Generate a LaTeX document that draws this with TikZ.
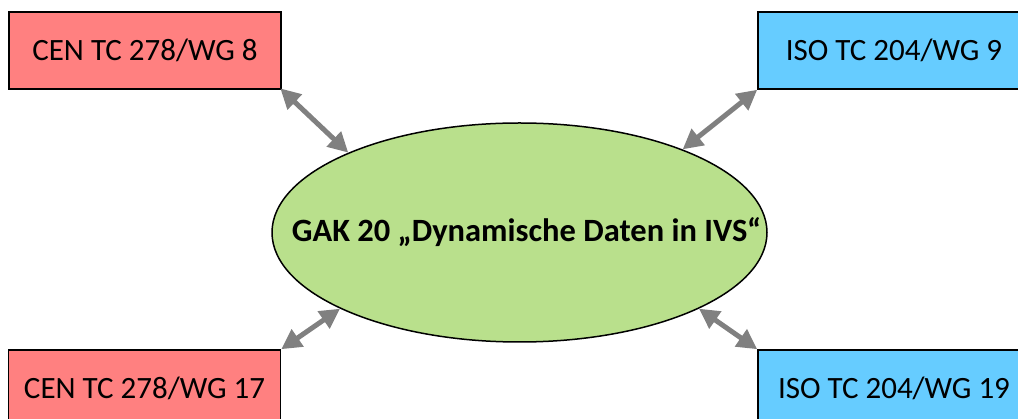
\documentclass[tikz,border=0pt]{standalone}
\usepackage{fontspec}
\setmainfont{Carlito}
\usepackage{tikz}
\usetikzlibrary{arrows.meta}
\usetikzlibrary{shapes.geometric}

\definecolor{cenred}{RGB}{255,128,128}
\definecolor{isoblue}{RGB}{102,204,255}
\definecolor{gakgreen}{RGB}{185,224,140}
\definecolor{linkgray}{RGB}{128,128,128}

\tikzset{
  wgbox/.style={draw=black, line width=1.5pt, minimum width=272pt, minimum height=77pt,
    inner sep=0pt, font=\fontsize{31}{36}\selectfont},
  cenbox/.style={wgbox, fill=cenred},
  isobox/.style={wgbox, fill=isoblue},
  link/.style={draw=linkgray, line width=5pt, {Triangle[length=20pt,width=20pt]}-{Triangle[length=20pt,width=20pt]}}
}

\begin{document}
\begin{tikzpicture}[x=1pt,y=-1pt]
    \useasboundingbox (0,0) rectangle (1018,419);
    \node[ellipse, draw=black, line width=1.5pt, fill=gakgreen, inner sep=0pt, minimum width=495pt, minimum height=219pt,
      label={[xshift=7pt, font=\bfseries\fontsize{32.5}{38}\selectfont]center:GAK 20 „Dynamische Daten in IVS“}] (gak) at (519.5,232.5) {};
    \node[cenbox] (wg8) at (145,50.5) {CEN TC 278/WG 8};
    \node[isobox] (wg9) at (894,50.5) {ISO TC 204/WG 9};
    \node[cenbox] (wg17) at (144.5,388.5) {CEN TC 278/WG 17};
    \node[isobox] (wg19) at (894,388.5) {ISO TC 204/WG 19};
    \draw[link, shorten <=-2pt] (wg8.south east) -- (gak.155);
    \draw[link] (wg9.south west) -- (gak.27);
    \draw[link] (wg17.north east) -- (gak.203);
    \draw[link] (wg19.north west) -- (gak.337);
  \end{tikzpicture}
\end{document}
